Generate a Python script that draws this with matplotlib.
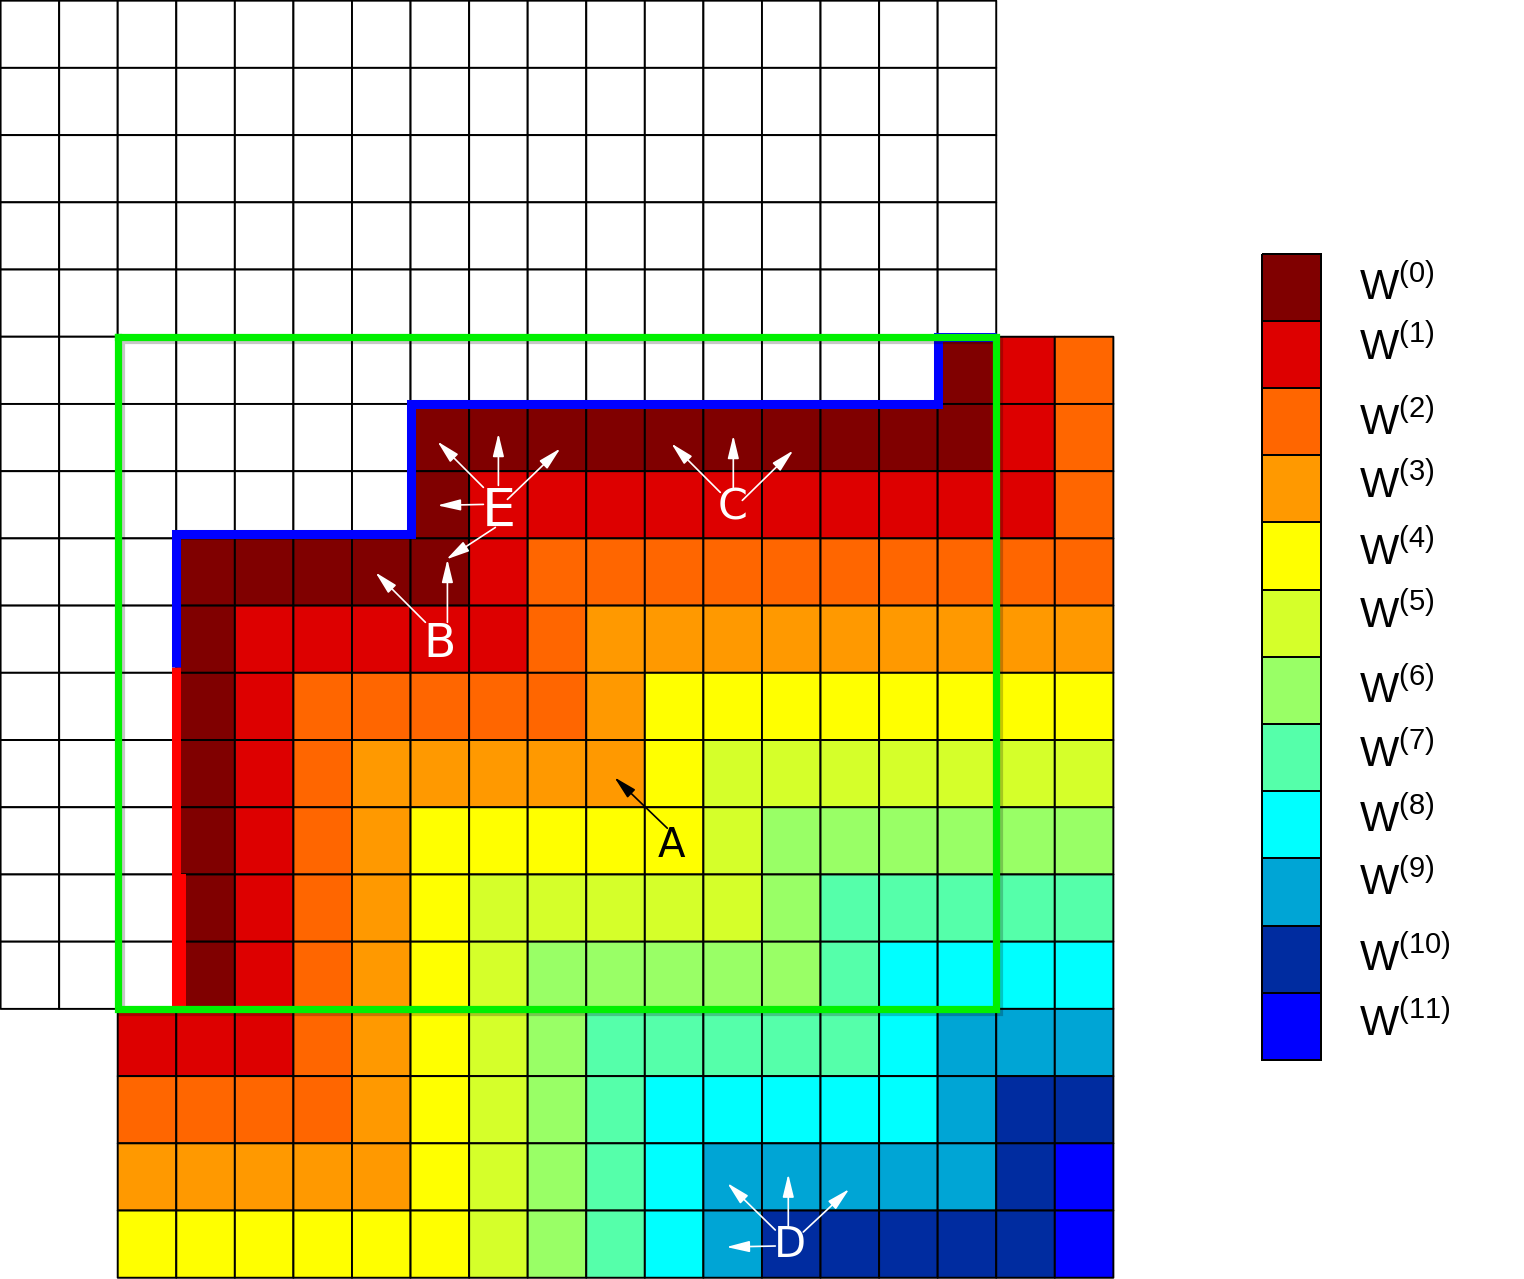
import numpy as np
import matplotlib
matplotlib.use("Agg")
import matplotlib.pyplot as plt
from matplotlib.colors import ListedColormap, BoundaryNorm
import matplotlib.patheffects as pe

plt.rcParams['mathtext.fontset'] = 'custom'
plt.rcParams['mathtext.rm'] = 'Liberation Sans'

# ---------------- data ----------------
level_colors = ['#800000', '#dd0000', '#ff6600', '#ff9900', '#ffff00', '#d5ff2a',
                '#99ff66', '#55ffaa', '#00ffff', '#00a5d5', '#002ca0', '#0000ff']
level_labels = [r'W$^{\mathregular{(%d)}}$' % k for k in range(12)]

# colored part of the grid: rows 5..18, columns 2..18
# '.' = white cell, hex digit = level index
color_rows = [
    "..............012",
    ".....000000000012",
    ".....011111111112",
    ".0000012222222222",
    ".0111112333333333",
    ".0122222344444444",
    ".0123333345555555",
    ".0123444445666666",
    ".0123455555677777",
    ".0123456666678888",
    "11123456777778999",
    "222234567888889aa",
    "333334567899999ab",
    "44444456789aaaaab",
]
first_color_row = 5
first_color_col = 2
white_rows = 15      # white grid rows 0..14
white_cols = 17      # white grid cols 0..16
n_rows, n_cols = 19, 19

# ---------------- layout ----------------
CW, CH = 58.59, 67.25      # pixel size of one cell
W_PX, H_PX = 1524, 1279

grid = np.full((n_rows, n_cols), np.nan)
grid[:white_rows, :white_cols] = -1
for i, row in enumerate(color_rows):
    for j, ch in enumerate(row):
        r, c = first_color_row + i, first_color_col + j
        grid[r, c] = -1 if ch == '.' else int(ch, 16)

cmap = ListedColormap(['white'] + level_colors)
norm = BoundaryNorm(np.arange(-1.5, 12.5, 1), cmap.N)

fig = plt.figure(figsize=(W_PX / 100, H_PX / 100), dpi=100)
ax = fig.add_axes([0, 0, 1, 1])
ax.set_xlim(-0.01, W_PX / CW)
ax.set_ylim(H_PX / CH, -0.01)
ax.axis('off')

ax.pcolor(np.arange(n_cols + 1), np.arange(n_rows + 1),
          np.ma.masked_invalid(grid), cmap=cmap, norm=norm,
          edgecolors='black', linewidths=1.4)

# red boundary line
ax.plot([3, 3], [9.92, 15.0], color='#ff0000', lw=6.5, solid_capstyle='butt', zorder=3)
ax.fill_between([3.0, 3.16], 13.0, 15.0, color='#ff0000', lw=0, zorder=3)
# blue boundary line
bx = [3, 3, 7, 7, 16, 16, 17]
by = [9.92, 7.93, 7.93, 6.0, 6.0, 5.0, 5.0]
ax.plot(bx, by, color='#0000ff', lw=6.5, solid_joinstyle='miter',
        solid_capstyle='butt', zorder=4)
# green rectangle
gx = [2, 17, 17, 2, 2]
gy = [5, 5, 15, 15, 5]
ax.plot(gx, gy, color='#00f000', lw=5.2, solid_joinstyle='miter', zorder=5,
        path_effects=[pe.SimpleLineShadow(offset=(2.2, -2.2), alpha=0.22, shadow_color='black'),
                      pe.Normal()])

# legend color boxes
lx0 = 1262 / CW
ly0 = 253 / CH
ax.pcolormesh([lx0, lx0 + 1], ly0 + np.arange(13), np.arange(12).reshape(12, 1),
              cmap=ListedColormap(level_colors), vmin=-0.5, vmax=11.5,
              edgecolors='black', linewidths=1.4, zorder=2)
label_baselines_px = [299, 359, 434, 497, 564, 627, 702, 766, 831, 894, 971, 1036]
for lab, yb in zip(level_labels, label_baselines_px):
    ax.text(1359 / CW, yb / CH, lab, fontsize=30, family='Liberation Sans',
            ha='left', va='baseline', color='black')

# annotations: label (x_center, baseline) px, size, color, arrows (start->tip) px
annots = [
    ('A', (671, 857), 29, 'black', [((667, 828), (614, 777))]),
    ('B', (439, 657), 34, 'white', [((425, 622), (375, 572)), ((447, 622), (447, 559))]),
    ('E', (498, 527), 39, 'white', [((483, 487), (437, 441)), ((498, 485), (498, 433)),
                                    ((507, 499), (560, 448)), ((483, 504), (437, 505)),
                                    ((495, 527), (446, 559))]),
    ('C', (732, 519), 31, 'white', [((720, 492), (671, 443)), ((733, 487), (733, 435)),
                                    ((742, 500), (793, 450))]),
    ('D', (790, 1257), 30, 'white', [((775, 1230), (727, 1183)), ((788, 1227), (788, 1174)),
                                     ((803, 1232), (849, 1189)), ((775, 1246), (726, 1247))]),
]
for txt, (tx, ty), fs, col, arrows in annots:
    for (sx, sy), (ex, ey) in arrows:
        ax.annotate('', xy=(ex / CW, ey / CH), xytext=(sx / CW, sy / CH),
                    arrowprops=dict(arrowstyle='-|>,head_length=0.7,head_width=0.17',
                                    color=col, lw=1.2, shrinkA=0, shrinkB=0,
                                    mutation_scale=20), zorder=7)
    ax.text(tx / CW, ty / CH, txt, fontsize=fs, family='DejaVu Sans', color=col,
            ha='center', va='baseline', zorder=8)

fig.savefig('out.png', dpi=100)
